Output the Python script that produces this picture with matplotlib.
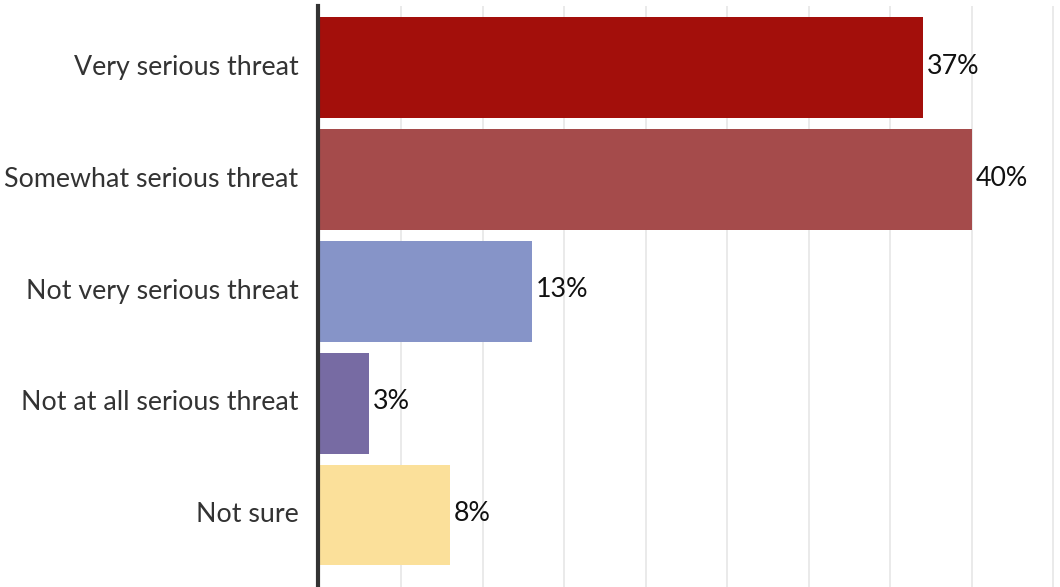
import matplotlib.pyplot as plt
import matplotlib.transforms as mtransforms

# Data
categories = ["Very serious threat", "Somewhat serious threat", "Not very serious threat",
              "Not at all serious threat", "Not sure"]
values = [37, 40, 13, 3, 8]
colors = ["#a30f0b", "#a54b4b", "#8694c8", "#776ba3", "#fbe09a"]

plt.rcParams['font.family'] = ['Lato', 'DejaVu Sans']

fig = plt.figure(figsize=(10.6, 5.87), dpi=100)
ax = fig.add_axes([0.3, 0.0, 0.7, 581 / 587])

# nudge text up a little
up = mtransforms.offset_copy(ax.transData, fig=fig, x=0, y=1, units="points")

y = list(range(len(categories)))
ax.barh(y, values, height=0.9, color=colors, zorder=2)

for yi, v in zip(y, values):
    ax.text(v + 0.25, yi, f"{v}%", va="center", ha="left", fontsize=19.3,
            color="#111111", transform=up)

ax.set_yticks([yi - 0.025 for yi in y])
ax.set_yticklabels(categories)
ax.tick_params(axis="y", length=0, pad=14, labelsize=19.3, labelcolor="#333333")
ax.tick_params(axis="x", length=0, labelbottom=False)
ax.set_xticks(range(5, 50, 5))
ax.set_xlim(-0.1, 45.4)
ax.set_ylim(4.643, -0.55)
ax.grid(axis="x", color="#e6e6e6", linewidth=1.2, zorder=0)

for s in ["top", "right", "bottom"]:
    ax.spines[s].set_visible(False)
ax.spines["left"].set_color("#333333")
ax.spines["left"].set_linewidth(3)
ax.spines["left"].set_position(("data", -0.1))
ax.spines["left"].set_zorder(3)

fig.savefig("out.png", dpi=100)
